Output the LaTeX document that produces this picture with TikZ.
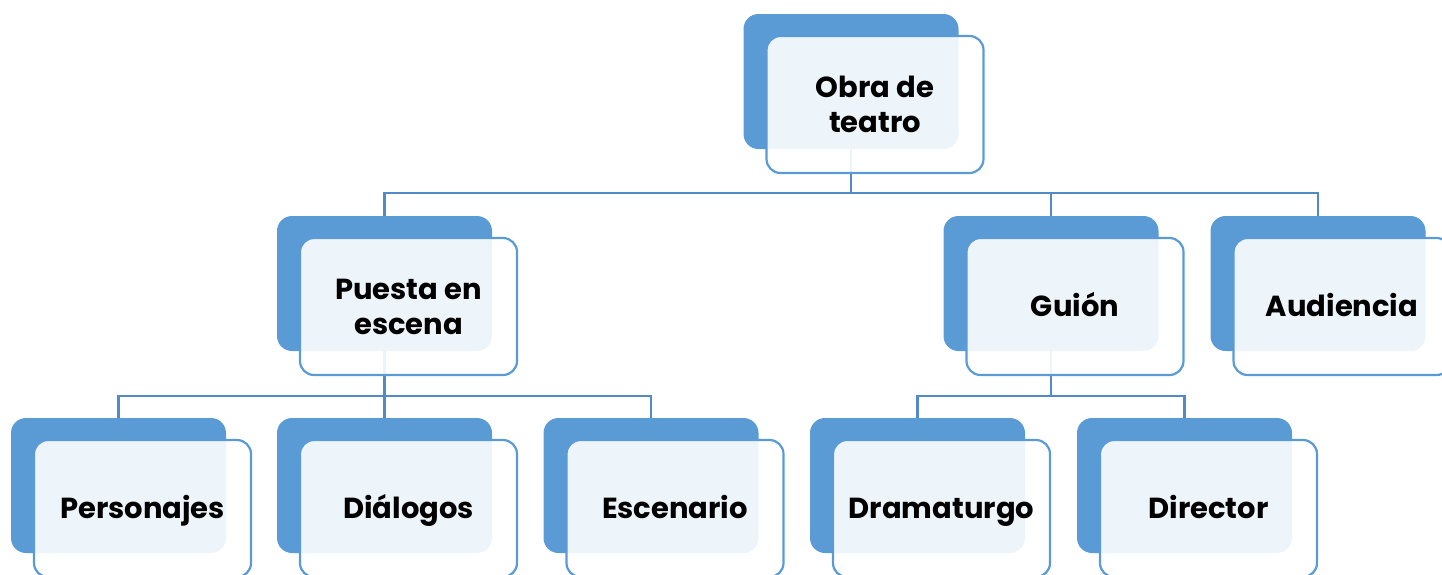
\documentclass[tikz,border=0pt]{standalone}
\usepackage{fontspec}
\setmainfont{Poppins}
\definecolor{boxblue}{HTML}{5B9BD5}
\definecolor{linkblue}{HTML}{5289C7}
\pgfdeclarelayer{background}
\pgfsetlayers{background,main}
\begin{document}
\begin{tikzpicture}[x=1pt,y=-1pt,
 backbox/.style={fill=boxblue, rounded corners=15pt, minimum width=215pt, minimum height=135pt, inner sep=0pt},
 frontbox/.style={draw=boxblue, line width=2.2pt, fill=white, fill opacity=0.9, text opacity=1, rounded corners=14pt, minimum width=217pt, minimum height=137pt, inner sep=0pt, align=center, font=\bfseries\fontsize{29}{35}\selectfont},
 oneline/.style={frontbox, execute at begin node={\rule{0pt}{28.5pt}\vphantom{pg}}},
 link/.style={draw=linkblue, line width=2.2pt}]
\clip (0,0) rectangle (1442,574);
\coordinate (bus1) at (0,193);
\coordinate (bus2) at (0,396);
% level 0
\node[backbox] (obra) at (851,81.5) {};
\node[frontbox] (obraF) at ([shift={(24,23)}]obra.center) {Obra de\\teatro};
% level 1
\node[backbox] (puesta) at (384.5,283.5) {};
\node[frontbox] (puestaF) at ([shift={(24,23)}]puesta.center) {Puesta en\\escena};
\node[backbox] (guion) at (1051,283.5) {};
\node[oneline] (guionF) at ([shift={(24,23)}]guion.center) {Guión};
\node[backbox] (aud) at (1318,283.5) {};
\node[oneline] (audF) at ([shift={(24,23)}]aud.center) {Audiencia};
% level 2
\node[backbox] (pers) at (118.5,485.5) {};
\node[oneline] (persF) at ([shift={(24,23)}]pers.center) {Personajes};
\node[backbox] (dial) at (384.5,485.5) {};
\node[oneline] (dialF) at ([shift={(24,23)}]dial.center) {Diálogos};
\node[backbox] (esc) at (651,485.5) {};
\node[oneline] (escF) at ([shift={(24,23)}]esc.center) {Escenario};
\node[backbox] (dram) at (917.5,485.5) {};
\node[oneline] (dramF) at ([shift={(24,23)}]dram.center) {Dramaturgo};
\node[backbox] (dir) at (1184.5,485.5) {};
\node[oneline] (dirF) at ([shift={(24,23)}]dir.center) {Director};
% connectors
\begin{pgfonlayer}{background}
\foreach \c in {puesta,guion,aud}
  \draw[link] (obra.south) -- (obra.south |- bus1) -| (\c.north);
\foreach \c in {pers,dial,esc}
  \draw[link] (puesta.south) -- (puesta.south |- bus2) -| (\c.north);
\foreach \c in {dram,dir}
  \draw[link] (guion.south) -- (guion.south |- bus2) -| (\c.north);
\end{pgfonlayer}
\end{tikzpicture}
\end{document}
